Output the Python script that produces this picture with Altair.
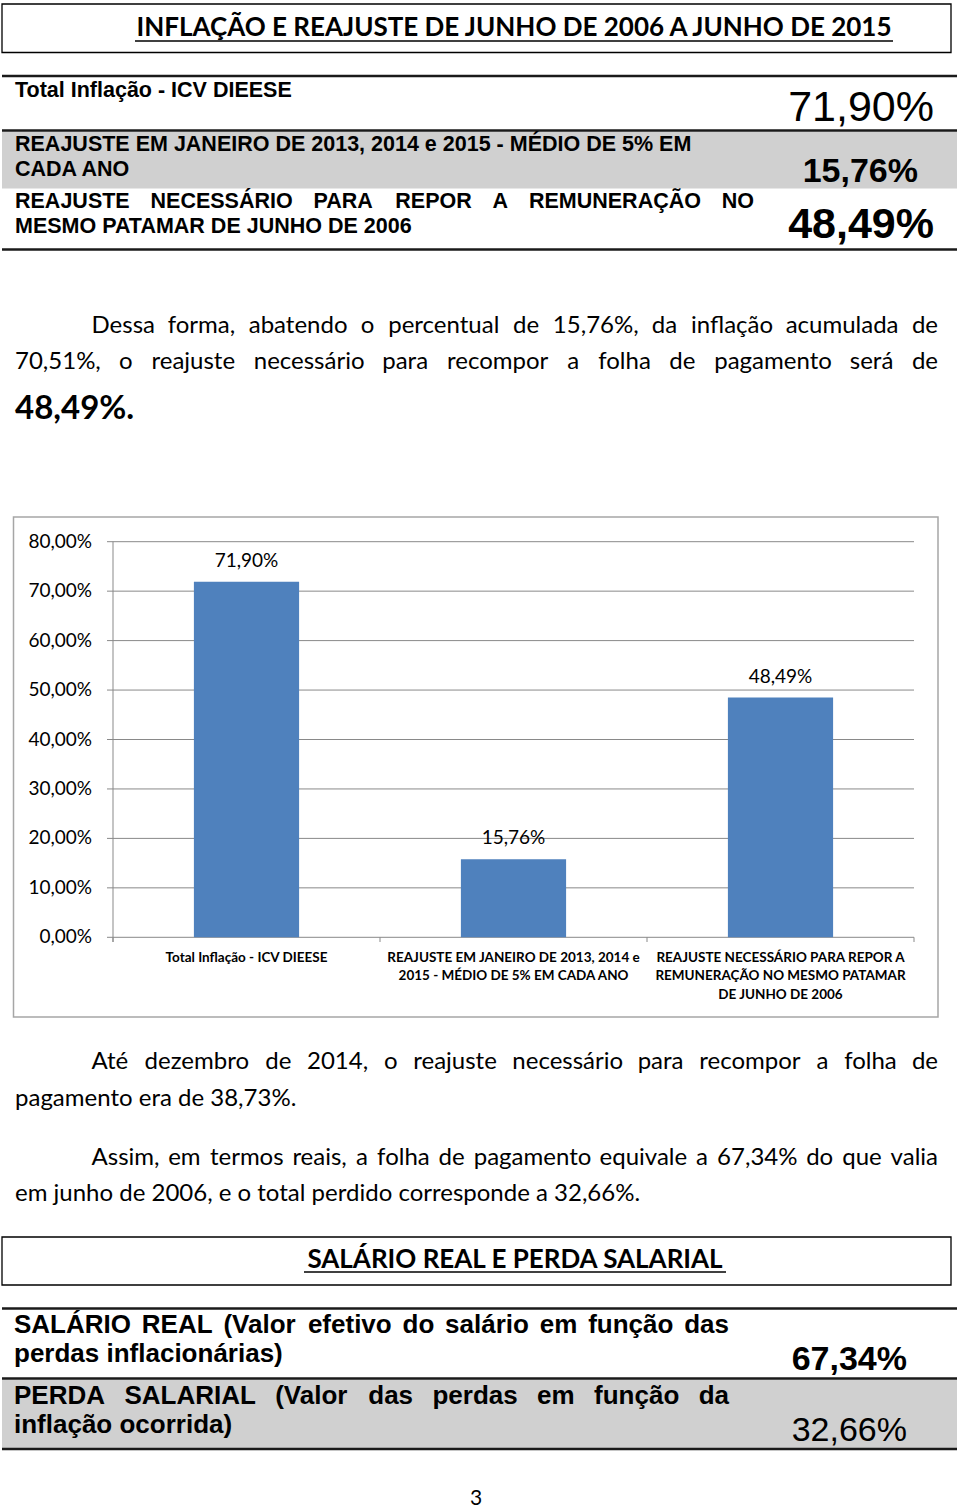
import unicodedata
import altair as alt
import pandas as pd

# ---------------- data ----------------
categories = [
    "Total Inflação - ICV DIEESE",
    "REAJUSTE EM JANEIRO DE 2013, 2014 e 2015 - MÉDIO DE 5% EM CADA ANO",
    "REAJUSTE NECESSÁRIO PARA REPOR A REMUNERAÇÃO NO MESMO PATAMAR DE JUNHO DE 2006",
]
category_lines = [
    ["Total Inflação - ICV DIEESE"],
    ["REAJUSTE EM JANEIRO DE 2013, 2014 e", "2015 - MÉDIO DE 5% EM CADA ANO"],
    ["REAJUSTE NECESSÁRIO PARA REPOR A", "REMUNERAÇÃO NO MESMO PATAMAR", "DE JUNHO DE 2006"],
]
values = [0.7190, 0.1576, 0.4849]
y_ticks = [0.0, 0.1, 0.2, 0.3, 0.4, 0.5, 0.6, 0.7, 0.8]

title1 = "INFLAÇÃO E REAJUSTE DE JUNHO DE 2006 A JUNHO DE 2015"
title2 = "SALÁRIO REAL E PERDA SALARIAL"
table1_values = ["71,90%", "15,76%", "48,49%"]
table2_values = ["67,34%", "32,66%"]
para1 = ["Dessa forma, abatendo o percentual de 15,76%, da inflação acumulada de",
         "70,51%, o reajuste necessário para recompor a folha de pagamento será de"]
para1_end = "48,49%."
para2 = ["Até dezembro de 2014, o reajuste necessário para recompor a folha de",
         "pagamento era de 38,73%."]
para3 = ["Assim, em termos reais, a folha de pagamento equivale a 67,34% do que valia",
         "em junho de 2006, e o total perdido corresponde a 32,66%."]
page_number = "3"


def pct(v):
    return f"{v * 100:.2f}".replace(".", ",") + "%"


# ---------------- fonts / metrics ----------------
ARIAL = "Liberation Sans, Arial, sans-serif"
CAL = "Lato, sans-serif"

ARIAL_BOLD_W = {
    " ": .278, "(": .333, ")": .333, "-": .333, ",": .278, ".": .278, "%": .889,
    "A": .722, "B": .722, "C": .722, "D": .722, "E": .667, "F": .611, "G": .778, "H": .722,
    "I": .278, "J": .556, "K": .722, "L": .611, "M": .833, "N": .722, "O": .778, "P": .667,
    "Q": .778, "R": .722, "S": .667, "T": .611, "U": .722, "V": .667, "W": .944, "X": .667,
    "Y": .667, "Z": .611,
    "a": .556, "b": .611, "c": .556, "d": .611, "e": .556, "f": .333, "g": .611, "h": .611,
    "i": .278, "j": .278, "k": .556, "l": .278, "m": .889, "n": .611, "o": .611, "p": .611,
    "q": .611, "r": .389, "s": .556, "t": .333, "u": .611, "v": .556, "w": .778, "x": .556,
    "y": .556, "z": .500,
}
for d in "0123456789":
    ARIAL_BOLD_W[d] = .556

LATO_W = {
    " ": .193, ",": .22, ".": .22, "%": .78, "-": .36,
    "A": .68, "D": .74, "E": .58,
    "a": .494, "b": .558, "c": .464, "d": .558, "e": .52, "f": .322, "g": .50, "h": .558,
    "i": .236, "j": .236, "k": .508, "l": .236, "m": .83, "n": .558, "o": .558, "p": .55,
    "q": .558, "r": .368, "s": .42, "t": .35, "u": .558, "v": .504, "w": .77, "x": .49,
    "y": .504, "z": .45,
}
for d in "0123456789":
    LATO_W[d] = .58


def base(c):
    return unicodedata.normalize("NFD", c)[0]


def word_w(word, table, size):
    return sum(table.get(c, table.get(base(c), .55)) for c in word) * size


def justify(line, x0, x1, y, table, size):
    words = line.split(" ")
    ws = [word_w(w, table, size) for w in words]
    gap = (x1 - x0 - sum(ws)) / (len(words) - 1)
    left, right = [], []
    pos = x0
    for i, (w, wd) in enumerate(zip(words, ws)):
        if i == len(words) - 1:
            right.append((x1, y, w, size))
        else:
            left.append((pos, y, w, size))
        pos += wd + gap
    return left, right


# ---------------- helpers ----------------
def text_layer(rows, font, weight="normal", align="left", baseline="alphabetic", color="#000000"):
    df = pd.DataFrame(rows, columns=["x", "y", "t", "fs"])
    return alt.Chart(df).mark_text(
        font=font, fontWeight=weight, align=align, baseline=baseline, color=color
    ).encode(
        x=alt.X("x:Q", scale=None, axis=None),
        y=alt.Y("y:Q", scale=None, axis=None),
        size=alt.Size("fs:Q", scale=None, legend=None),
        text=alt.Text("t:N"),
    )


def rect_layer(rows):
    df = pd.DataFrame(rows, columns=["x", "x2", "y", "y2", "fill", "stroke", "sw"])
    return alt.Chart(df).mark_rect().encode(
        x=alt.X("x:Q", scale=None, axis=None),
        x2="x2:Q",
        y=alt.Y("y:Q", scale=None, axis=None),
        y2="y2:Q",
        fill=alt.Fill("fill:N", scale=None, legend=None),
        stroke=alt.Stroke("stroke:N", scale=None, legend=None),
        strokeWidth=alt.StrokeWidth("sw:Q", scale=None, legend=None),
    )


def hrule_layer(rows):
    df = pd.DataFrame(rows, columns=["x", "x2", "y", "sw", "c"])
    return alt.Chart(df).mark_rule().encode(
        x=alt.X("x:Q", scale=None, axis=None),
        x2="x2:Q",
        y=alt.Y("y:Q", scale=None, axis=None),
        strokeWidth=alt.StrokeWidth("sw:Q", scale=None, legend=None),
        color=alt.Color("c:N", scale=None, legend=None),
    )


# ---------------- page decoration ----------------
LINE = "#1a1a1a"
GRAY = "#d0d0d0"
rects = rect_layer([
    (2, 951, 4, 52.5, "#ffffff", "#000000", 1.3),          # title box 1
    (2, 957, 131.5, 188.5, GRAY, GRAY, 0),                  # gray row table 1
    (13.5, 938, 517, 1017, "#ffffff", "#a6a6a6", 1.5),     # chart frame
    (2, 951, 1237, 1285, "#ffffff", "#000000", 1.3),       # title box 2
    (2, 957, 1379.5, 1448, GRAY, GRAY, 0),                  # gray row table 2
])

rules = hrule_layer([
    (2, 957, 76, 2.6, LINE), (2, 957, 130.5, 2.6, LINE), (2, 957, 249.5, 2.6, LINE),
    (2, 957, 1308.5, 2.6, LINE), (2, 957, 1378.5, 2.6, LINE), (2, 957, 1449, 2.6, LINE),
    (135, 893, 41, 1.6, "#000000"), (304, 726, 1272, 1.6, "#000000"),
])

# ---------------- texts ----------------
titles = text_layer([(514, 36, title1, 26), (515, 1268, title2, 26)], CAL, "bold", "center")

t1_left = [(15, 97, "Total Inflação - ICV DIEESE", 21.5),
           (15, 151, "REAJUSTE EM JANEIRO DE 2013, 2014 e 2015 - MÉDIO DE 5% EM", 21.5),
           (15, 176, "CADA ANO", 21.5),
           (15, 233, "MESMO PATAMAR DE JUNHO DE 2006", 21.5),
           (14, 1362, "perdas inflacionárias)", 26),
           (14, 1433, "inflação ocorrida)", 26)]
t1_right = []
for line, x0, x1, y, sz in [
    ("REAJUSTE NECESSÁRIO PARA REPOR A REMUNERAÇÃO NO", 15, 754, 208, 21.5),
    ("SALÁRIO REAL (Valor efetivo do salário em função das", 14, 729, 1333, 26),
    ("PERDA SALARIAL (Valor das perdas em função da", 14, 729, 1404, 26),
]:
    l, r = justify(line, x0, x1, y, ARIAL_BOLD_W, sz)
    t1_left += l
    t1_right += r

arial_bold_left = text_layer(t1_left, ARIAL, "bold", "left")
arial_bold_right_lbl = text_layer(t1_right, ARIAL, "bold", "right")
values_bold = text_layer([(918, 182, table1_values[1], 34), (934, 238, table1_values[2], 43),
                          (907, 1370, table2_values[0], 34)], ARIAL, "bold", "right")
values_reg = text_layer([(934, 121, table1_values[0], 43), (907, 1441, table2_values[1], 34)],
                        ARIAL, "normal", "right")

PS = 24
p_left, p_right = [], []
for line, x0, y in [(para1[0], 91.5, 333), (para1[1], 15, 369), (para2[0], 91.5, 1069),
                    (para3[0], 91.5, 1165)]:
    l, r = justify(line, x0, 938, y, LATO_W, PS)
    p_left += l
    p_right += r
p_left += [(15, 1106, para2[1], PS), (15, 1201, para3[1], PS)]
para_left = text_layer(p_left, CAL, "normal", "left")
para_right = text_layer(p_right, CAL, "normal", "right")
para_bold = text_layer([(15, 419, para1_end, 33)], CAL, "bold", "left")
page_no = text_layer([(476, 1505, page_number, 21)], CAL, "normal", "center")

# ---------------- bar chart ----------------
xs = alt.Scale(domain=categories, range=[113, 914], paddingInner=0.606, paddingOuter=0.303)
ys = alt.Scale(domain=[0, 0.8], range=[937.3, 541.7], nice=False)
GRID = "#898989"

bar_df = pd.DataFrame({"cat": categories, "v": values, "lbl": [pct(v) for v in values]})
tick_df = pd.DataFrame({"t": y_ticks, "lbl": [pct(v) for v in y_ticks]})

grid = alt.Chart(tick_df).mark_rule(color=GRID, strokeWidth=1).encode(
    y=alt.Y("t:Q", scale=ys, axis=None), x=alt.value(107), x2=alt.value(914))
step = (914 - 113) / len(categories)
xtick_df = pd.DataFrame({"x": [113 + i * step for i in range(len(categories) + 1)]})
xticks = alt.Chart(xtick_df).mark_rule(color=GRID, strokeWidth=1).encode(
    x=alt.X("x:Q", scale=None, axis=None), y=alt.value(937.3), y2=alt.value(942))
yaxis = alt.Chart(tick_df.head(1)).mark_rule(color=GRID, strokeWidth=1).encode(
    x=alt.value(113), y=alt.value(541.7), y2=alt.value(942))
bars = alt.Chart(bar_df).mark_bar(color="#4f81bd").encode(
    x=alt.X("cat:N", scale=xs, axis=None), y=alt.Y("v:Q", scale=ys, axis=None))
bar_lbls = alt.Chart(bar_df).mark_text(font=CAL, fontSize=19, baseline="middle", dy=-21,
                                       color="#000000").encode(
    x=alt.X("cat:N", scale=xs, axis=None), y=alt.Y("v:Q", scale=ys, axis=None), text="lbl:N")
ytick_lbls = alt.Chart(tick_df).mark_text(font=CAL, fontSize=19, align="right", baseline="middle",
                                          color="#000000").encode(
    y=alt.Y("t:Q", scale=ys, axis=None), x=alt.value(92), text="lbl:N")
cat_rows = []
for c, lines in zip(categories, category_lines):
    for i, ln in enumerate(lines):
        cat_rows.append({"cat": c, "y": 962 + 18.3 * i, "t": ln})
cat_lbls = alt.Chart(pd.DataFrame(cat_rows)).mark_text(
    font=CAL, fontSize=13.5, fontWeight="bold", align="center", baseline="alphabetic",
    color="#000000").encode(
    x=alt.X("cat:N", scale=xs, axis=None), y=alt.Y("y:Q", scale=None, axis=None), text="t:N")

chart = alt.layer(
    rects, grid, bars, xticks, yaxis, rules, titles, arial_bold_left, arial_bold_right_lbl,
    values_bold, values_reg, para_left, para_right, para_bold, page_no, bar_lbls, ytick_lbls,
    cat_lbls,
).resolve_scale(x="independent", y="independent").properties(
    width=960, height=1511, autosize=alt.AutoSizeParams(type="none"), padding=0,
    background="#ffffff",
).configure_view(stroke=None)

chart.save("out.html", embed_options={"renderer": "svg", "actions": False})
